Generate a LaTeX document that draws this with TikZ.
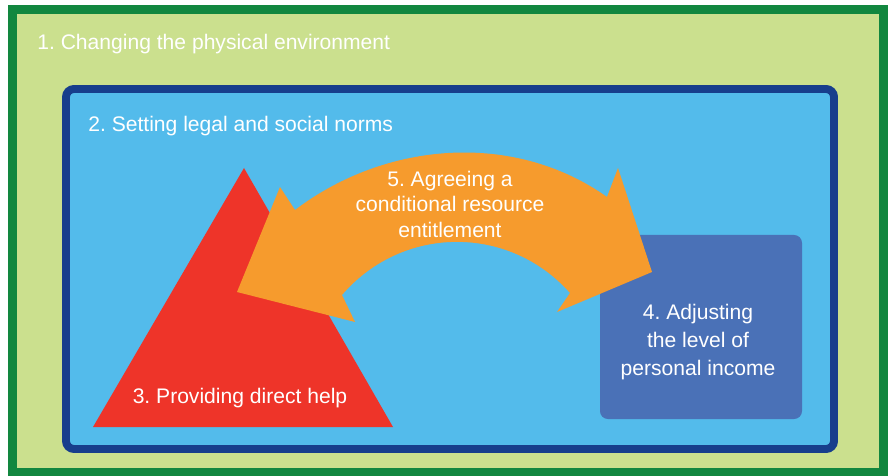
\documentclass[tikz,border=0pt]{standalone}
\usepackage{fontspec}
\setmainfont{Liberation Sans}
\frenchspacing
\definecolor{envgreen}{HTML}{12873F}
\definecolor{envfill}{HTML}{CBE08E}
\definecolor{normblue}{HTML}{173E8C}
\definecolor{normfill}{HTML}{53BBEB}
\definecolor{helpred}{HTML}{EE3429}
\definecolor{incomeblue}{HTML}{4A71B7}
\definecolor{dealorange}{HTML}{F69B2D}

\begin{document}
\begin{tikzpicture}[x=0.02cm,y=-0.02cm,
    lbl/.style={text=white,inner sep=0pt,font=\fontsize{12}{14.5}\selectfont,align=center}]
\useasboundingbox[fill=white] (0,0) rectangle (893,476);

\draw[envgreen,line width=5.1pt,fill=envfill] (12.5,9.5) rectangle (883.5,472);
\node[lbl,anchor=base west] (env) at (37,50) {1. Changing the physical environment};

\draw[normblue,line width=4.5pt,fill=normfill,rounded corners=4.5pt] (66,89) rectangle (834,449);
\node[lbl,anchor=base west] (norms) at (88,132) {2. Setting legal and social norms};

\fill[helpred] (93,427) -- (393,427) -- (244,168) -- cycle;
\node[lbl,anchor=base] (help) at (240,403) {3. Providing direct help};

\fill[incomeblue,rounded corners=4.5pt] (600,235) rectangle (802,419);
\node[lbl,font=\fontsize{12}{15.9}\selectfont] (income) at (698,342) {4. Adjusting\\the level of\\personal income};

\fill[dealorange] (237,292) -- (280,187) -- (295,210)
    .. controls (386,141) and (514,131) .. (607,197) -- (618,168) -- (652,272)
    -- (557,312) -- (570,293) .. controls (509,224) and (402,225) .. (342,295)
    -- (355,322) -- cycle;
\node[lbl] (deal) at (450,204) {5. Agreeing a\\conditional resource\\entitlement};

\end{tikzpicture}
\end{document}
